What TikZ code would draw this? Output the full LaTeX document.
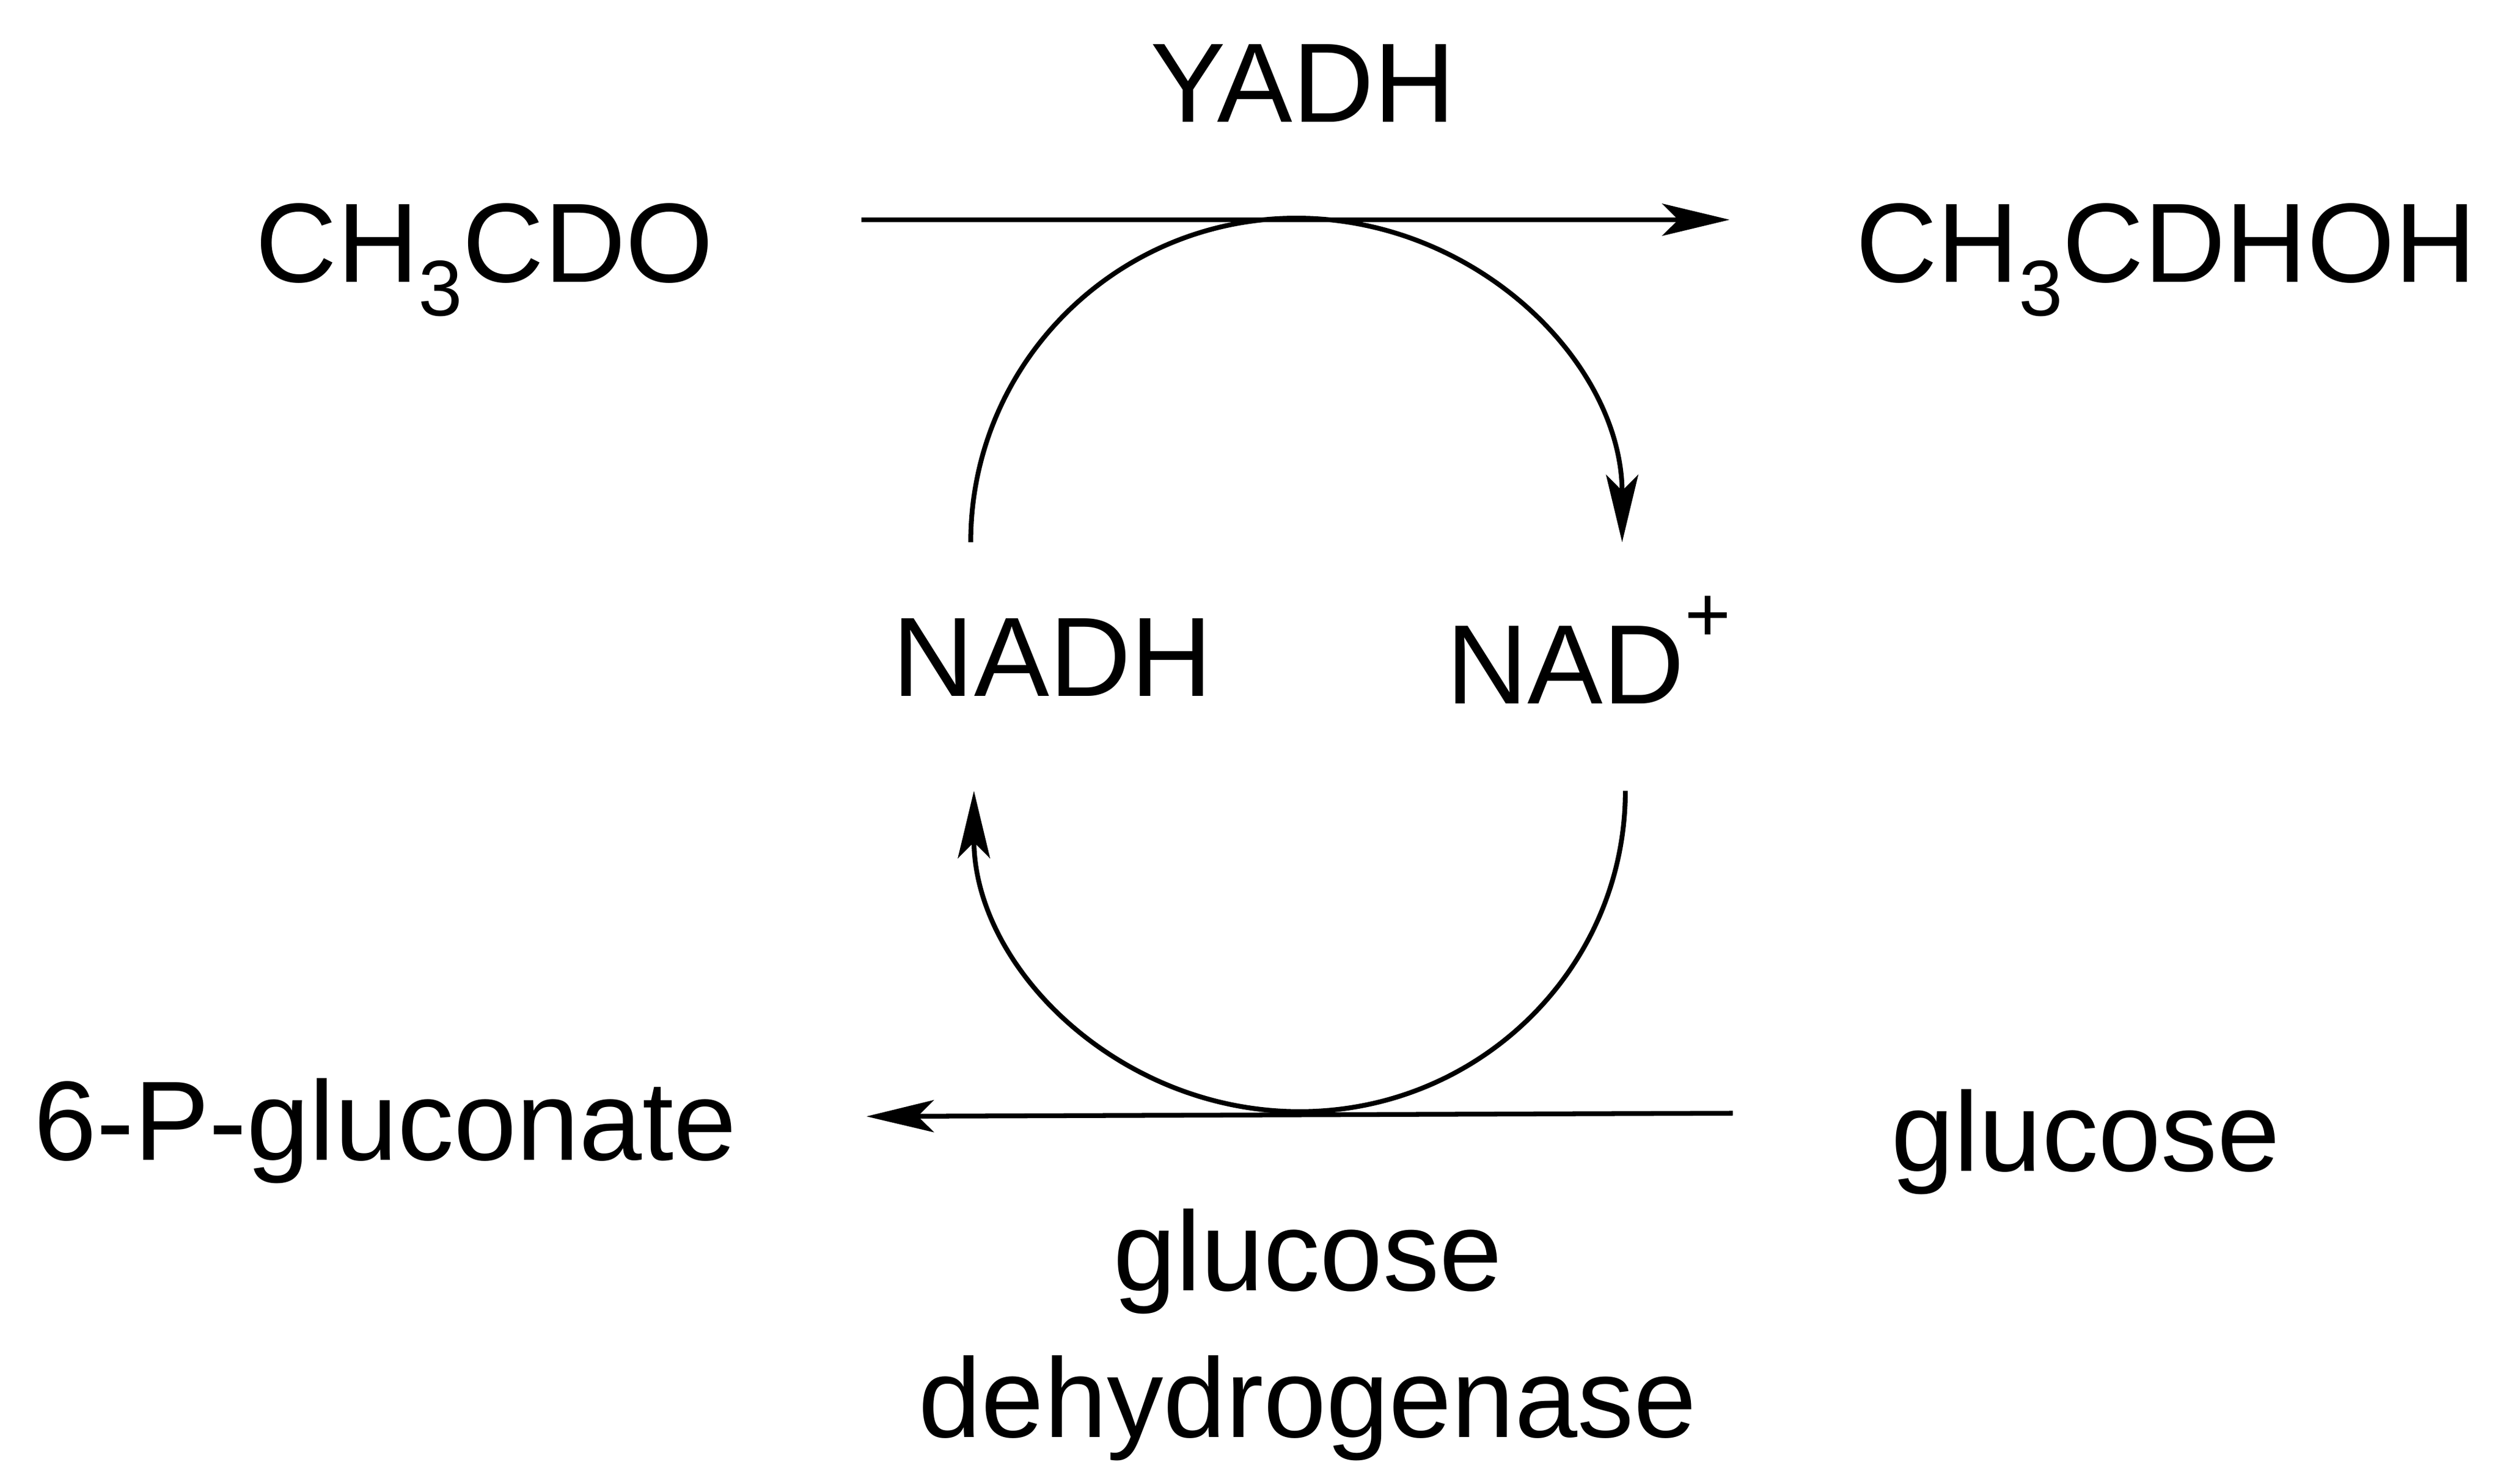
\documentclass[tikz,border=0pt]{standalone}
\usepackage{fontspec}
\setmainfont{Liberation Sans}
\usetikzlibrary{arrows.meta}
\newcommand{\mysub}[1]{\raisebox{-0.3em}{\fontsize{14}{16}\selectfont #1}}
\newcommand{\mysup}[1]{\raisebox{0.55em}{\fontsize{14}{16}\selectfont #1}}
\begin{document}
\begin{tikzpicture}[x=0.01cm,y=-0.01cm,
  lbl/.style={font=\fontsize{20}{23}\selectfont, inner sep=0pt},
  ln/.style={line width=0.85pt},
  arr/.style={ln,-{Stealth[length=0.42cm,width=0.2cm,inset=0.1cm]}}]
\useasboundingbox (0,0) rectangle (1560,925);
\node[lbl] (yadh) at (812,52) {YADH};
\node[lbl] (ald) at (302,162) {CH\mysub{3}CDO};
\node[lbl] (alc) at (1350,162) {CH\mysub{3}CDHOH};
\node[lbl] (nadh) at (656,410) {NADH};
\node[lbl] (nad) at (990,405) {NAD\mysup{+}};
\node[lbl] (gcn) at (240,705) {6-P-gluconate};
\node[lbl] (glc) at (1300,712) {glucose};
\node[lbl,align=center,font=\fontsize{20}{26}\selectfont] (gdh) at (815,832) {glucose\\dehydrogenase};
\coordinate (t1) at (537,137); \coordinate (t2) at (1078,137);
\coordinate (b1) at (1080,694); \coordinate (b2) at (540,696);
\draw[arr] (t1) -- (t2);
\draw[arr] (b1) -- (b2);
\coordinate (a1) at (605,338);
\draw[arr] (a1) arc[start angle=180,end angle=0,x radius=203,y radius=-202];
\coordinate (a2) at (1013,493);
\draw[arr] (a2) arc[start angle=0,end angle=-180,x radius=203,y radius=-200];
\end{tikzpicture}
\end{document}
